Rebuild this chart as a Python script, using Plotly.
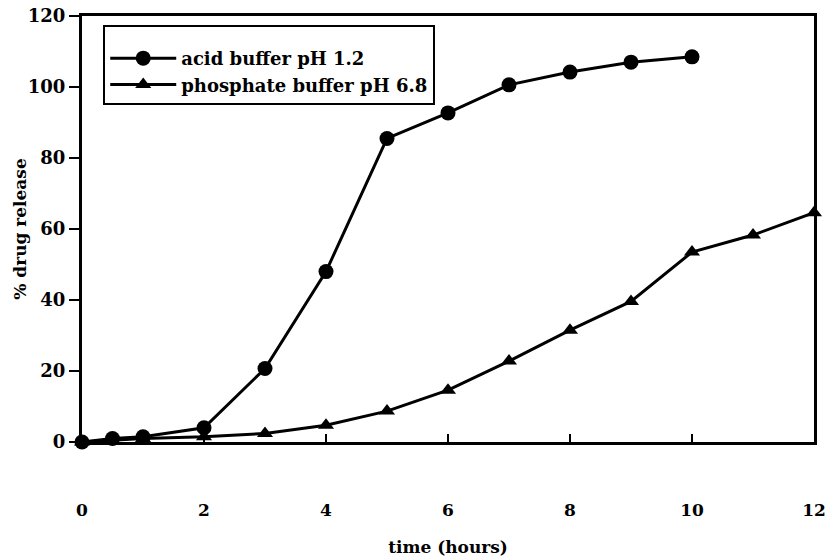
import plotly.graph_objects as go

acid_time = [0, 0.5, 1, 2, 3, 4, 5, 6, 7, 8, 9, 10]
acid_release = [0, 1, 1.5, 4, 20.7, 48, 85.5, 92.7, 100.6, 104.2, 107, 108.5]

phos_time = [0, 0.5, 1, 2, 3, 4, 5, 6, 7, 8, 9, 10, 11, 12]
phos_release = [0, 0.5, 1, 1.5, 2.4, 4.7, 8.7, 14.6, 22.8, 31.5, 39.6, 53.5, 58.3, 64.6]

x_ticks = [0, 2, 4, 6, 8, 10, 12]
y_ticks = [0, 20, 40, 60, 80, 100, 120]

FONT = "DejaVu Serif"

fig = go.Figure()
fig.add_trace(go.Scatter(
    x=acid_time, y=acid_release, mode="lines+markers",
    name="<b>acid buffer pH 1.2</b>",
    line=dict(color="black", width=3),
    marker=dict(symbol="circle", size=15, color="black"),
    cliponaxis=False,
))
fig.add_trace(go.Scatter(
    x=phos_time, y=phos_release, mode="lines+markers",
    name="<b>phosphate buffer pH 6.8</b>",
    line=dict(color="black", width=3),
    marker=dict(symbol="triangle-up", size=14, color="black"),
    cliponaxis=False,
))

fig.update_layout(
    width=835, height=558,
    margin=dict(l=82, r=21, t=16, b=116),
    paper_bgcolor="white", plot_bgcolor="white",
    font=dict(family=FONT, color="black", size=18),
    showlegend=True,
    legend=dict(
        x=0.029, y=0.979, xanchor="left", yanchor="top",
        bordercolor="black", borderwidth=2, bgcolor="white",
        font=dict(family=FONT, size=18, color="black"),
        title=dict(text="&nbsp;", font=dict(size=10)),
        tracegroupgap=0, itemwidth=66,
    ),
    xaxis=dict(
        range=[0, 12], tickvals=x_ticks, ticktext=[f"<b>{v}</b>" for v in x_ticks],
        showline=True, linecolor="black", linewidth=3, mirror=True,
        ticks="inside", ticklen=8, tickwidth=2, tickcolor="black",
        showgrid=False, zeroline=False, automargin=False,
        ticklabelstandoff=51,
        tickfont=dict(family=FONT, size=17),
        title=dict(text="<b>time (hours)</b>", font=dict(family=FONT, size=17), standoff=22),
    ),
    yaxis=dict(
        range=[0, 120], tickvals=y_ticks, ticktext=[f"<b>{v}</b>" for v in y_ticks],
        showline=True, linecolor="black", linewidth=3, mirror=True,
        ticks="outside", ticklen=10, tickwidth=2, tickcolor="black",
        showgrid=False, zeroline=False, automargin=False,
        tickfont=dict(family=FONT, size=18),
    ),
    annotations=[dict(
        text="<b>% drug release</b>", textangle=-90,
        xref="paper", yref="paper", x=-0.085, y=0.5,
        xanchor="center", yanchor="middle", showarrow=False,
        font=dict(family=FONT, size=17, color="black"),
    )],
)

fig.write_html(
    "out.html",
    config={"displayModeBar": False},
    post_script="document.body.style.margin='0';",
)
